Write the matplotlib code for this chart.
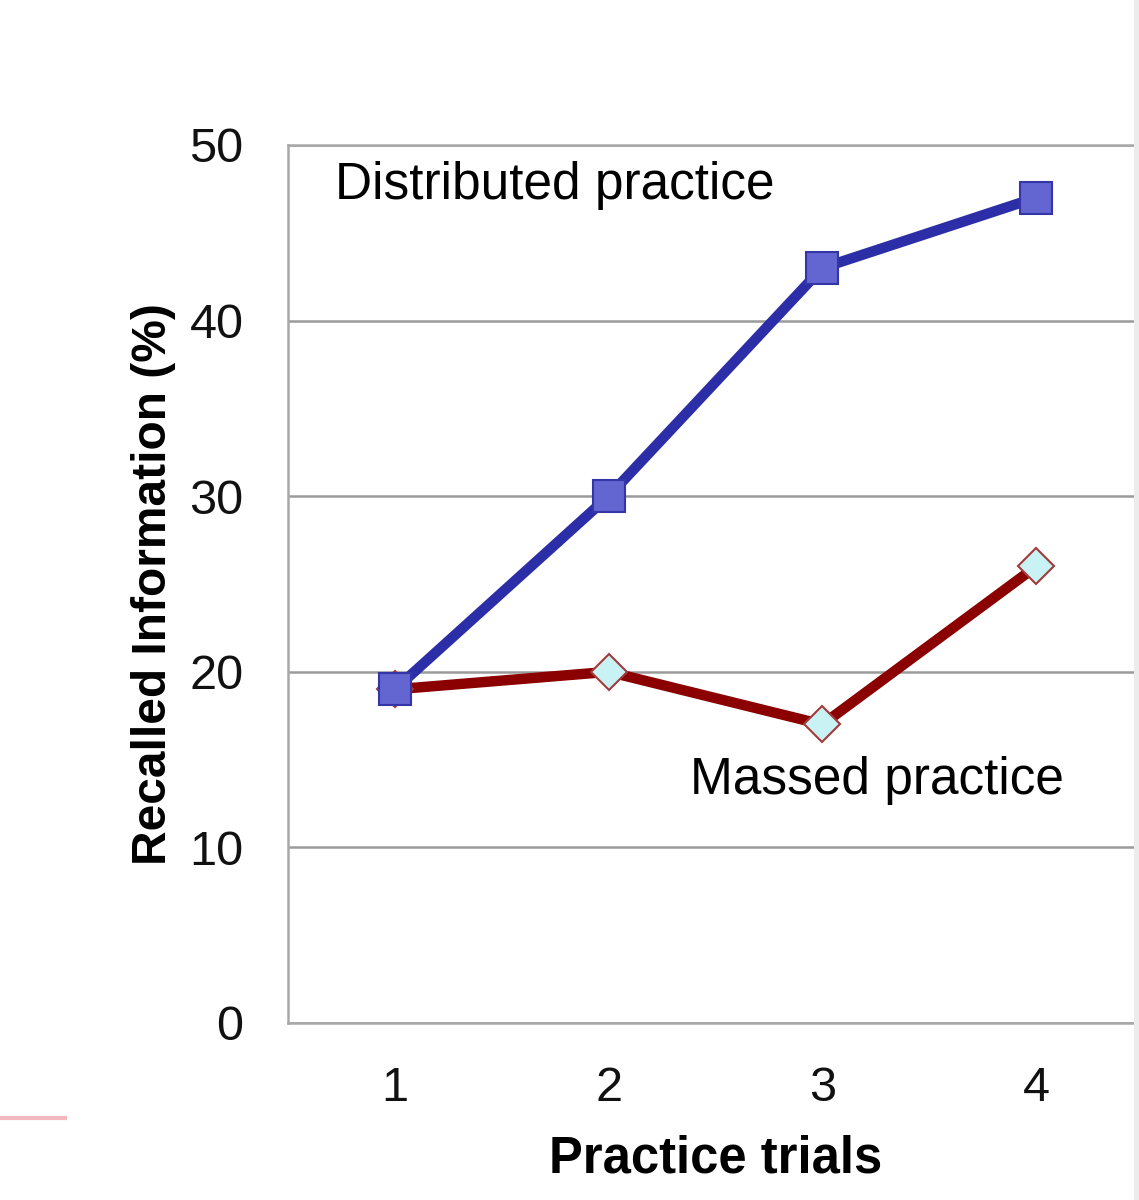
import matplotlib.pyplot as plt
from matplotlib.lines import Line2D
from matplotlib.patches import Rectangle

# data
trials = [1, 2, 3, 4]
distributed = [19, 30, 43, 47]
massed = [19, 20, 17, 26]
y_ticks = [0, 10, 20, 30, 40, 50]

plt.rcParams['font.family'] = ['Liberation Sans', 'DejaVu Sans']

fig = plt.figure(figsize=(11.39, 12), dpi=100)
ax = fig.add_axes([288 / 1139, 177 / 1200, 855 / 1139, 878 / 1200])

# massed first so the blue square sits on top at trial 1
ax.plot(trials, massed, color='#8b0000', lw=7.5, marker='D', markersize=18,
        markerfacecolor='#c9f2f4', markeredgecolor='#a33a3a', markeredgewidth=1.5,
        solid_joinstyle='round', zorder=3)
ax.plot(trials, distributed, color='#2b2ea6', lw=7.5, marker='s', markersize=23,
        markerfacecolor='#6366d0', markeredgecolor='#3436a8', markeredgewidth=1.5,
        solid_joinstyle='round', zorder=4)

ax.set_xlim(0.5, 4.5)
ax.set_ylim(0, 50)
ax.set_xticks(trials)
ax.set_yticks(y_ticks)
ax.tick_params(axis='both', length=0, labelsize=35, colors='#111111')
ax.tick_params(axis='x', pad=31)
ax.tick_params(axis='y', pad=32)
ax.yaxis.grid(True, color='#9a9a9a', lw=1.8)
ax.set_axisbelow(True)

for side in ['left', 'bottom', 'top']:
    ax.spines[side].set_color('#a8a8a8')
    ax.spines[side].set_linewidth(1.8)
ax.spines['right'].set_visible(False)

ax.set_xlabel('Practice trials', fontsize=36.5, fontweight='bold', labelpad=17)
ax.set_ylabel('Recalled Information (%)', fontsize=34.5, fontweight='bold', labelpad=10)

ax.text(0.72, 47.7, 'Distributed practice', fontsize=37, ha='left', va='center')
ax.text(4.13, 13.8, 'Massed practice', fontsize=37, ha='right', va='center')

# slide decorations
fig.add_artist(Line2D([0, 65 / 1139], [1 - 1118 / 1200] * 2, color='#f2b8c0', lw=3))
fig.add_artist(Rectangle((1134 / 1139, 0), 5 / 1139, 1, color='#ececec', lw=0))

fig.savefig('out.png', dpi=100)
